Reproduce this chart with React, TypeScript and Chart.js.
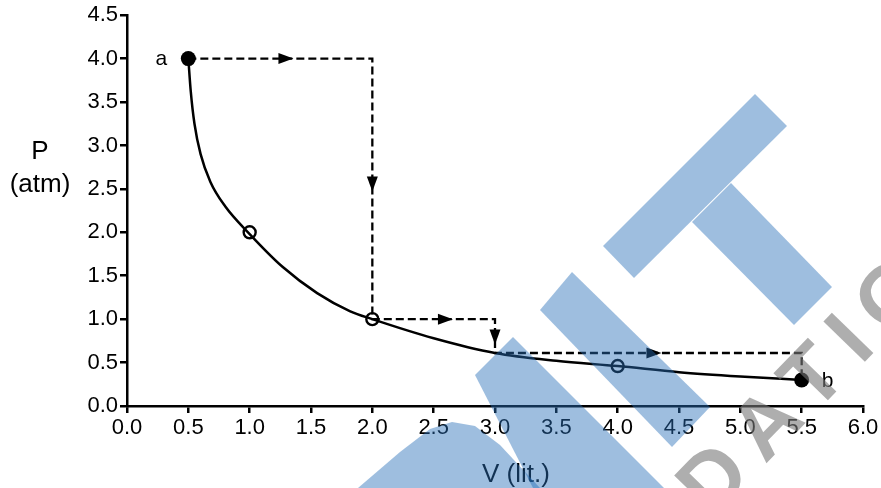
import React, { useEffect, useRef } from "react";
import { Chart, registerables } from "chart.js";

Chart.register(...registerables);

// Isothermal curve
const curveV = [0.5, 0.52, 0.55, 0.6, 0.68, 0.8, 1.0, 1.27, 1.55, 1.82, 2.0, 2.5, 3.0, 3.5, 4.0, 4.5, 5.0, 5.5];
const curveP = [4.0, 3.62, 3.25, 2.9, 2.58, 2.3, 1.98, 1.6, 1.3, 1.09, 1.0, 0.78, 0.61, 0.52, 0.46, 0.39, 0.34, 0.3];

// Dashed stepped path a -> b
const pathV = [0.5, 2.0, 2.0, 3.0, 3.0, 5.5, 5.5];
const pathP = [4.0, 4.0, 1.0, 1.0, 0.61, 0.61, 0.3];

// End states a and b
const endV = [0.5, 5.5];
const endP = [4.0, 0.3];
const endLabels = ["a", "b"];

// Open circles on the curve
const openV = [1.0, 2.0, 4.0];
const openP = [2.0, 1.0, 0.46];

// Arrow heads on the dashed path
const arrowV = [1.3, 2.0, 2.6, 3.0, 4.3];
const arrowP = [4.0, 2.55, 1.0, 0.79, 0.61];
const arrowDir = ["right", "down", "right", "down", "right"];

const xTicksMin = 0;
const xTicksMax = 6;
const yTicksMin = 0;
const yTicksMax = 4.5;
const tickStep = 0.5;

const FONT = "'Liberation Sans', Arial, sans-serif";

const overlayPlugin = {
  id: "overlay",
  afterDatasetsDraw(chart: any) {
    const { ctx, scales } = chart;
    const xs = scales.x;
    const ys = scales.y;
    ctx.save();
    // arrow heads
    ctx.fillStyle = "#000";
    arrowV.forEach((v, i) => {
      const px = xs.getPixelForValue(v);
      const py = ys.getPixelForValue(arrowP[i]);
      ctx.beginPath();
      if (arrowDir[i] === "right") {
        ctx.moveTo(px + 7, py);
        ctx.lineTo(px - 8, py - 5.5);
        ctx.lineTo(px - 8, py + 5.5);
      } else {
        ctx.moveTo(px, py + 7);
        ctx.lineTo(px - 5.5, py - 8);
        ctx.lineTo(px + 5.5, py - 8);
      }
      ctx.closePath();
      ctx.fill();
    });
    // point labels a, b
    ctx.font = `21px ${FONT}`;
    ctx.textBaseline = "middle";
    ctx.textAlign = "center";
    endLabels.forEach((t, i) => {
      const px = xs.getPixelForValue(endV[i]);
      const py = ys.getPixelForValue(endP[i]);
      const dx = i === 0 ? -27 : 26;
      ctx.fillText(t, px + dx, py + 1);
    });
    // axis titles
    ctx.font = `26px ${FONT}`;
    ctx.fillStyle = "#000";
    ctx.fillText("P", 40, 152);
    ctx.fillText("(atm)", 40, 185);
    const ca = chart.chartArea;
    ctx.fillText("V (lit.)", (ca.left + ca.right) / 2 + 21, 475);
    ctx.restore();
  },
  afterDraw(chart: any) {
    const { ctx } = chart;
    ctx.save();
    // watermark (decorative)
    ctx.fillStyle = "rgba(40,110,185,0.45)";
    const polys = [
      [[603, 246], [755, 94], [787, 126], [634, 278]],
      [[692, 222], [731, 183], [832, 287], [794, 325]],
      [[540, 310], [572, 272], [710, 407], [672, 447]],
      [[475, 375], [513, 337], [664, 488], [533, 488]],
      [[358, 488], [400, 452], [430, 429], [452, 422], [475, 426], [500, 445], [540, 488]],
    ];
    polys.forEach((p) => {
      ctx.beginPath();
      p.forEach(([x, y], i) => (i === 0 ? ctx.moveTo(x, y) : ctx.lineTo(x, y)));
      ctx.closePath();
      ctx.fill();
    });
    ctx.fillStyle = "rgba(120,120,120,0.6)";
    ctx.translate(716, 482);
    ctx.rotate(-0.8);
    ctx.font = `bold 84px ${FONT}`;
    (ctx as any).letterSpacing = "16px";
    ctx.textBaseline = "middle";
    ctx.textAlign = "left";
    ctx.fillText("DATION", -30, 0);
    ctx.textAlign = "right";
    ctx.fillText("FOUN", -46, 0);
    ctx.restore();
  },
};

export default function App() {
  const ref = useRef<HTMLCanvasElement | null>(null);
  useEffect(() => {
    if (!ref.current) return;
    const toXY = (xs: number[], ys: number[]) => xs.map((x, i) => ({ x, y: ys[i] }));
    const axisCommon = {
      type: "linear" as const,
      border: { display: true, color: "#000", width: 2.5 },
      grid: { drawOnChartArea: false, drawTicks: true, tickLength: 7, color: "#000", lineWidth: 2.5 },
    };
    const chart = new Chart(ref.current, {
      type: "scatter",
      data: {
        datasets: [
          {
            data: toXY(curveV, curveP),
            showLine: true,
            borderColor: "#000",
            borderWidth: 2.5,
            pointRadius: 0,
            cubicInterpolationMode: "monotone",
          } as any,
          {
            data: toXY(pathV, pathP),
            showLine: true,
            borderColor: "#000",
            borderWidth: 2.3,
            borderDash: [8, 4],
            pointRadius: 0,
          } as any,
          {
            data: toXY(openV, openP),
            pointRadius: 6,
            pointBorderWidth: 2.4,
            pointBackgroundColor: "#fff",
            pointBorderColor: "#000",
          } as any,
          {
            data: toXY(endV, endP),
            pointRadius: 7.5,
            pointBorderWidth: 0,
            pointBackgroundColor: "#000",
            pointBorderColor: "#000",
          } as any,
        ],
      },
      options: {
        animation: false,
        responsive: true,
        maintainAspectRatio: false,
        layout: { padding: { left: 0, right: 18, top: 15, bottom: 0 } },
        plugins: { legend: { display: false }, tooltip: { enabled: false } },
        scales: {
          x: {
            ...axisCommon,
            min: xTicksMin,
            max: xTicksMax,
            ticks: {
              stepSize: tickStep,
              color: "#000",
              padding: 2,
              font: { family: FONT, size: 22 },
              callback: (v: any) => Number(v).toFixed(1),
              maxRotation: 0,
              autoSkip: false,
            },
            afterFit: (s: any) => {
              s.height = 82;
            },
          },
          y: {
            ...axisCommon,
            min: yTicksMin,
            max: yTicksMax,
            ticks: {
              stepSize: tickStep,
              color: "#000",
              padding: 2,
              font: { family: FONT, size: 22 },
              callback: (v: any) => Number(v).toFixed(1),
              autoSkip: false,
            },
            afterFit: (s: any) => {
              s.width = 127;
            },
          },
        },
      } as any,
      plugins: [overlayPlugin],
    });
    return () => chart.destroy();
  }, []);
  return (
    <div style={{ position: "fixed", left: 0, top: 0, width: 881, height: 488, background: "#fff" }}>
      <canvas ref={ref} />
    </div>
  );
}
